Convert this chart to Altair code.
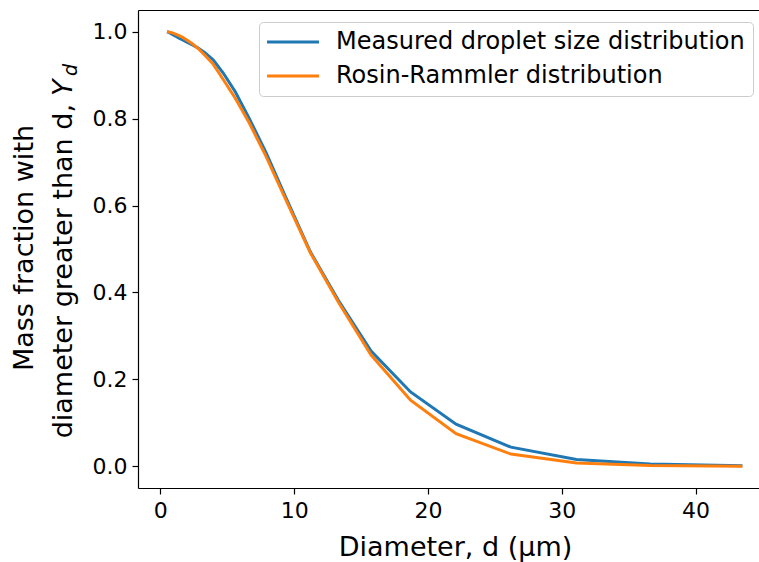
import altair as alt
import pandas as pd

# Droplet diameter (µm) at each size-class centre
diameter = [0.5, 0.6, 0.7, 0.84, 1.0, 1.18, 1.4, 1.67, 1.98, 2.36, 2.8, 3.33, 3.96,
            4.7, 5.6, 6.65, 7.9, 9.4, 11.2, 13.3, 15.75, 18.7, 22.1, 26.2, 31.1, 36.6, 43.5]

# Mass fraction with diameter greater than d
measured = [1.0, 0.999, 0.997, 0.995, 0.992, 0.989, 0.985, 0.981, 0.976, 0.970, 0.963,
            0.952, 0.935, 0.905, 0.862, 0.80, 0.722, 0.617, 0.494, 0.382, 0.265, 0.171,
            0.097, 0.044, 0.0154, 0.005, 0.001]
rosin_rammler = [1.0, 0.9995, 0.999, 0.998, 0.996, 0.994, 0.991, 0.987, 0.981, 0.973,
                 0.962, 0.946, 0.925, 0.89, 0.847, 0.79, 0.713, 0.612, 0.492, 0.378,
                 0.256, 0.152, 0.075, 0.028, 0.0076, 0.0018, 0.0003]

series_names = ["Measured droplet size distribution", "Rosin-Rammler distribution"]
series_colors = ["#1f77b4", "#ff7f0e"]

x_ticks = [0, 10, 20, 30, 40]
y_ticks = [0.0, 0.2, 0.4, 0.6, 0.8, 1.0]

n = len(diameter)
df = pd.DataFrame({
    "d": diameter + diameter,
    "Y": measured + rosin_rammler,
    "series": [series_names[0]] * n + [series_names[1]] * n,
})

FONT = "DejaVu Sans"
x_scale = alt.Scale(domain=[-1.67, 44.74], nice=False, zero=False)
y_scale = alt.Scale(domain=[-0.05, 1.05], nice=False, zero=False)
y_axis = alt.Axis(values=y_ticks, format=".1f", title=None, labelPadding=5)

lines = alt.Chart(df).mark_line(strokeWidth=3).encode(
    x=alt.X("d:Q", scale=x_scale,
            axis=alt.Axis(values=x_ticks, format="d", title="Diameter, d (μm)",
                          titleX=317, titleY=67, titleBaseline="alphabetic",
                          titleAlign="center", titleFontSize=27, titleFontWeight="normal",
                          labelPadding=6)),
    y=alt.Y("Y:Q", scale=y_scale, axis=y_axis),
    color=alt.Color("series:N",
                    scale=alt.Scale(domain=series_names, range=series_colors),
                    legend=alt.Legend(title=None, orient="none", legendX=121, legendY=12,
                                      symbolType="M-3,0H3", symbolSize=300,
                                      symbolStrokeWidth=3, symbolOffset=14,
                                      labelFontSize=24,
                                      labelFont=FONT, labelColor="#000000",
                                      labelOffset=31, padding=8, rowPadding=10,
                                      strokeColor="#cccccc", fillColor="#ffffff",
                                      cornerRadius=4, labelLimit=600)),
)

# top spine
top_spine = alt.Chart(df).mark_line(strokeOpacity=0).encode(
    x=alt.X("d:Q", scale=x_scale,
            axis=alt.Axis(orient="top", labels=False, ticks=False, title=None,
                          domain=True, grid=False)),
    y=alt.Y("Y:Q", scale=y_scale, axis=y_axis),
)

# two-line y-axis title with Y_d
title_style = dict(angle=270, font=FONT, fontSize=27, color="#000000", baseline="alphabetic")
ytitle1 = alt.Chart().mark_text(align="center", **title_style).encode(
    x=alt.value(-105), y=alt.value(238), text=alt.value("Mass fraction with"))
ytitle2 = alt.Chart().mark_text(align="right", **title_style).encode(
    x=alt.value(-66), y=alt.value(94), text=alt.value("diameter greater than d,"))
ytitle_Y = alt.Chart().mark_text(align="left", fontStyle="italic", **title_style).encode(
    x=alt.value(-66), y=alt.value(86), text=alt.value("Y"))
sub_style = dict(title_style, fontSize=19)
ytitle_d = alt.Chart().mark_text(align="left", fontStyle="italic", **sub_style).encode(
    x=alt.value(-61), y=alt.value(66), text=alt.value("d"))

chart = alt.layer(lines, top_spine, ytitle1, ytitle2, ytitle_Y, ytitle_d).resolve_axis(
    x="independent"
).properties(
    width=621, height=478,
    padding={"left": 138, "top": 10, "right": 0, "bottom": 74},
    autosize=alt.AutoSizeParams(type="none"),
).configure_view(stroke=None).configure_axis(
    grid=False, domainColor="#000000", domainWidth=1.2, tickColor="#000000",
    tickWidth=1.2, tickSize=6, labelFont=FONT, labelFontSize=22, labelColor="#000000",
    titleFont=FONT, titleColor="#000000",
)

chart.save("out.html", embed_options={"renderer": "svg", "actions": False})
